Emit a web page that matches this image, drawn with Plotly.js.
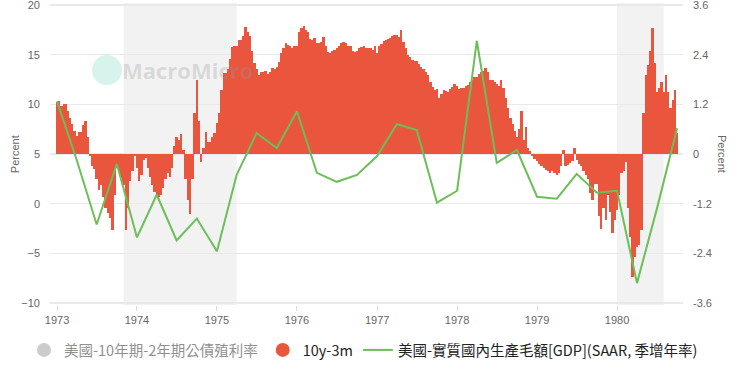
<!DOCTYPE html>
<html>
<head>
<meta charset="utf-8">
<script src="https://cdn.plot.ly/plotly-3.0.1.min.js"></script>
<style>
  html, body { margin: 0; padding: 0; background: #fff; }
  #chart { width: 740px; height: 378px; }
</style>
</head>
<body>
<div id="chart"></div>
<script>
// ---- Data ----
// 10y-3m spread (percent, right axis), three readings per month (days 1, 11, 21)
const years = [1973, 1974, 1975, 1976, 1977, 1978, 1979, 1980];
const spread1973 = [1.26, 1.28, 1.15, 1.20, 1.20, 1.05, 0.88, 0.72, 0.56, 0.44, 0.52, 0.52,
  0.70, 0.80, 0.40, -0.05, -0.30, -0.36, -0.60, -0.88, -0.76, -1.05, -1.30, -1.42,
  -1.55, -1.84, -1.00, -0.33, -0.42, -0.58, -0.75, -1.84, -1.30, -0.65, -0.42, -0.05];
const spread1974 = [-0.35, -0.65, -0.50, -0.15, -0.10, -0.35, -0.55, -0.75, -0.93, -1.00, -1.05, -0.98,
  -0.82, -0.60, -0.45, -0.55, -0.35, 0.20, 0.42, 0.35, 0.48, 0.10, -0.60, -1.10,
  -1.45, -0.60, 1.00, 1.79, 0.80, -0.20, 0.15, 0.54, 0.30, 0.30, 0.40, 0.50];
const spread1975 = [0.74, 0.98, 1.55, 1.95, 1.95, 2.05, 2.30, 2.58, 2.60, 2.60, 2.75, 2.75,
  2.85, 3.07, 2.95, 2.85, 2.50, 2.20, 2.05, 1.92, 1.97, 1.98, 2.00, 1.93,
  1.98, 2.08, 2.05, 2.10, 2.22, 2.45, 2.57, 2.67, 2.63, 2.60, 2.57, 2.60];
const spread1976 = [2.62, 2.95, 3.04, 3.10, 3.00, 2.95, 2.78, 2.75, 2.80, 2.67, 2.68, 2.70,
  2.83, 2.60, 2.47, 2.45, 2.50, 2.52, 2.55, 2.60, 2.68, 2.71, 2.67, 2.62,
  2.60, 2.50, 2.47, 2.50, 2.55, 2.58, 2.60, 2.57, 2.57, 2.57, 2.52, 2.62];
const spread1977 = [2.43, 2.60, 2.65, 2.72, 2.75, 2.78, 2.80, 2.85, 2.87, 2.87, 2.83, 3.00,
  2.70, 2.55, 2.39, 2.35, 2.27, 2.25, 2.25, 2.17, 2.10, 2.05, 1.97, 1.90,
  1.75, 1.62, 1.55, 1.57, 1.35, 1.45, 1.55, 1.52, 1.50, 1.58, 1.62, 1.70];
const spread1978 = [1.65, 1.58, 1.60, 1.60, 1.65, 1.67, 1.75, 1.80, 1.85, 1.87, 1.93, 1.97,
  2.00, 2.07, 1.97, 1.79, 1.78, 1.75, 1.70, 1.65, 1.80, 1.60, 1.35, 1.12,
  0.88, 0.72, 0.55, 0.42, 0.60, 1.05, 0.35, 0.65, 0.15, 0.08, -0.05, -0.12];
const spread1979 = [-0.18, -0.25, -0.28, -0.35, -0.38, -0.42, -0.47, -0.40, -0.45, -0.50, -0.45, -0.30,
  0.10, -0.30, -0.27, -0.22, -0.18, 0.15, -0.15, -0.25, -0.30, -0.40, -0.50, -0.60,
  -0.95, -1.10, -0.72, -0.72, -1.50, -1.80, -1.30, -1.59, -1.00, -1.40, -1.90, -1.60];
const spread1980 = [-1.35, -1.00, -0.45, -0.40, -0.20, -1.30, -2.00, -2.96, -2.50, -2.25, -2.20, -1.84,
  1.00, 1.90, 2.15, 2.50, 3.04, 2.20, 1.50, 1.60, 1.75, 1.50, 1.90, 1.50,
  1.10, 1.30, 1.55, 0.50];
const slotDays = ['01', '11', '21'];

// US real GDP, SAAR q/q annualized (percent, left axis)
const gdpDates = ['1973-01-01','1973-04-01','1973-07-01','1973-10-01',
  '1974-01-01','1974-04-01','1974-07-01','1974-10-01',
  '1975-01-01','1975-04-01','1975-07-01','1975-10-01',
  '1976-01-01','1976-04-01','1976-07-01','1976-10-01',
  '1977-01-01','1977-04-01','1977-07-01','1977-10-01',
  '1978-01-01','1978-04-01','1978-07-01','1978-10-01',
  '1979-01-01','1979-04-01','1979-07-01','1979-10-01',
  '1980-01-01','1980-04-01','1980-07-01','1980-10-01'];
const gdpValues = [10.3, 4.4, -2.1, 4.0,
  -3.4, 0.9, -3.7, -1.5,
  -4.8, 2.9, 7.1, 5.6,
  9.3, 3.1, 2.2, 2.9,
  4.8, 8.0, 7.4, 0.1,
  1.3, 16.4, 4.1, 5.4,
  0.7, 0.5, 3.0, 1.1,
  1.3, -8.0, -0.5, 7.6];

// Recessions (shaded)
const recessionStart = ['1973-11-01', '1980-01-01'];
const recessionEnd = ['1975-04-01', '1980-08-01'];

// Axis ticks
const leftTicks = [-10, -5, 0, 5, 10, 15, 20];
const rightTicks = [-3.6, -2.4, -1.2, 0, 1.2, 2.4, 3.6];

const seriesNames = ['美國-10年期-2年期公債殖利率', '10y-3m', '美國-實質國內生產毛額[GDP](SAAR, 季增年率)'];

// ---- Build spread series ----
const spreadByYear = [spread1973, spread1974, spread1975, spread1976, spread1977, spread1978, spread1979, spread1980];
const spreadDates = [];
const spreadValues = [];
years.forEach((y, yi) => {
  const arr = spreadByYear[yi];
  arr.forEach((v, i) => {
    const m = Math.floor(i / 3) + 1;
    const d = slotDays[i % 3];
    spreadDates.push(y + '-' + (m < 10 ? '0' + m : m) + '-' + d);
    spreadValues.push(v);
  });
});

const RED = '#e9553d';
const GREEN = '#6cbf58';
const DAY = 86400000;

const traces = [
  {
    type: 'scatter', mode: 'markers', name: seriesNames[0],
    x: [null], y: [null], visible: 'legendonly',
    marker: { color: '#9a9a9a', size: 14, symbol: 'circle' }, hoverinfo: 'skip'
  },
  {
    type: 'bar', name: seriesNames[1], x: spreadDates, y: spreadValues,
    yaxis: 'y', width: 11 * DAY, showlegend: false, legendgroup: 'spread',
    marker: { color: RED, line: { width: 0 } }
  },
  {
    type: 'scatter', mode: 'markers', name: seriesNames[1], legendgroup: 'spread',
    x: [null], y: [null], marker: { color: RED, size: 14, symbol: 'circle' }, hoverinfo: 'skip'
  },
  {
    type: 'scatter', mode: 'lines', name: seriesNames[2], x: gdpDates, y: gdpValues,
    yaxis: 'y2', line: { color: GREEN, width: 2 }
  }
];

const shapes = recessionStart.map((s, i) => ({
  type: 'rect', xref: 'x', yref: 'paper', x0: s, x1: recessionEnd[i], y0: 0, y1: 1,
  fillcolor: '#f2f2f2', line: { width: 0 }, layer: 'below'
}));
// watermark logo circle
shapes.push({
  type: 'circle', xref: 'paper', yref: 'paper', xsizemode: 'pixel', ysizemode: 'pixel',
  xanchor: 0.09, yanchor: 0.778, x0: -15, x1: 15, y0: -15, y1: 15,
  fillcolor: 'rgba(110,215,185,0.28)', line: { width: 0 }, layer: 'above'
});

const tickFont = { family: 'Liberation Sans, Arial, sans-serif', size: 11, color: '#666' };

const layout = {
  width: 740, height: 378,
  margin: { l: 50, r: 57, t: 3, b: 73 },
  paper_bgcolor: '#fff', plot_bgcolor: '#fff',
  bargap: 0,
  showlegend: true,
  xaxis: {
    type: 'date', range: ['1972-11-30', '1980-10-28'],
    tick0: '1973-01-01', dtick: 'M12', tickformat: '%Y',
    showgrid: false, zeroline: false, showline: false,
    ticks: 'outside', ticklen: 5, tickcolor: '#dcdcdc', tickwidth: 1,
    tickfont: tickFont
  },
  yaxis: {
    side: 'right', range: [-3.6483, 3.6483], tickmode: 'array', tickvals: rightTicks,
    ticktext: rightTicks.map(String), ticklabeloverflow: 'allow',
    showgrid: true, gridcolor: '#e9e9e9', gridwidth: 1.5, zeroline: false, showline: false,
    ticks: '', ticklabelstandoff: 9, tickfont: tickFont
  },
  yaxis2: {
    side: 'left', overlaying: 'y', range: [-10.2013, 20.2013], tickmode: 'array', tickvals: leftTicks,
    ticklabeloverflow: 'allow',
    showgrid: false, zeroline: false, showline: false,
    ticks: '', ticklabelstandoff: 9, tickfont: tickFont
  },
  legend: {
    orientation: 'h', x: 1.0316, xanchor: 'right', y: -0.149, yanchor: 'middle',
    font: { family: 'Noto Sans CJK TC, sans-serif', size: 14.5, color: '#222' },
    itemclick: false, itemdoubleclick: false, bgcolor: 'rgba(0,0,0,0)'
  },
  shapes: shapes,
  annotations: [
    {
      text: 'Percent', xref: 'paper', yref: 'paper', x: -0.055, y: 0.5,
      xanchor: 'center', yanchor: 'middle', textangle: -90, showarrow: false,
      font: { family: 'Liberation Sans, Arial, sans-serif', size: 11, color: '#666' }
    },
    {
      text: 'Percent', xref: 'paper', yref: 'paper', x: 1.0616, y: 0.5,
      xanchor: 'center', yanchor: 'middle', textangle: 90, showarrow: false,
      font: { family: 'Liberation Sans, Arial, sans-serif', size: 11, color: '#666' }
    },
    {
      text: '<b>MacroMicro</b>', xref: 'paper', yref: 'paper', x: 0.218, y: 0.778,
      xanchor: 'center', yanchor: 'middle', showarrow: false,
      font: { family: 'Open Sans, sans-serif', size: 22, color: 'rgba(150,150,150,0.28)' }
    }
  ]
};

Plotly.newPlot('chart', traces, layout, { displayModeBar: false, staticPlot: true });
</script>
</body>
</html>
